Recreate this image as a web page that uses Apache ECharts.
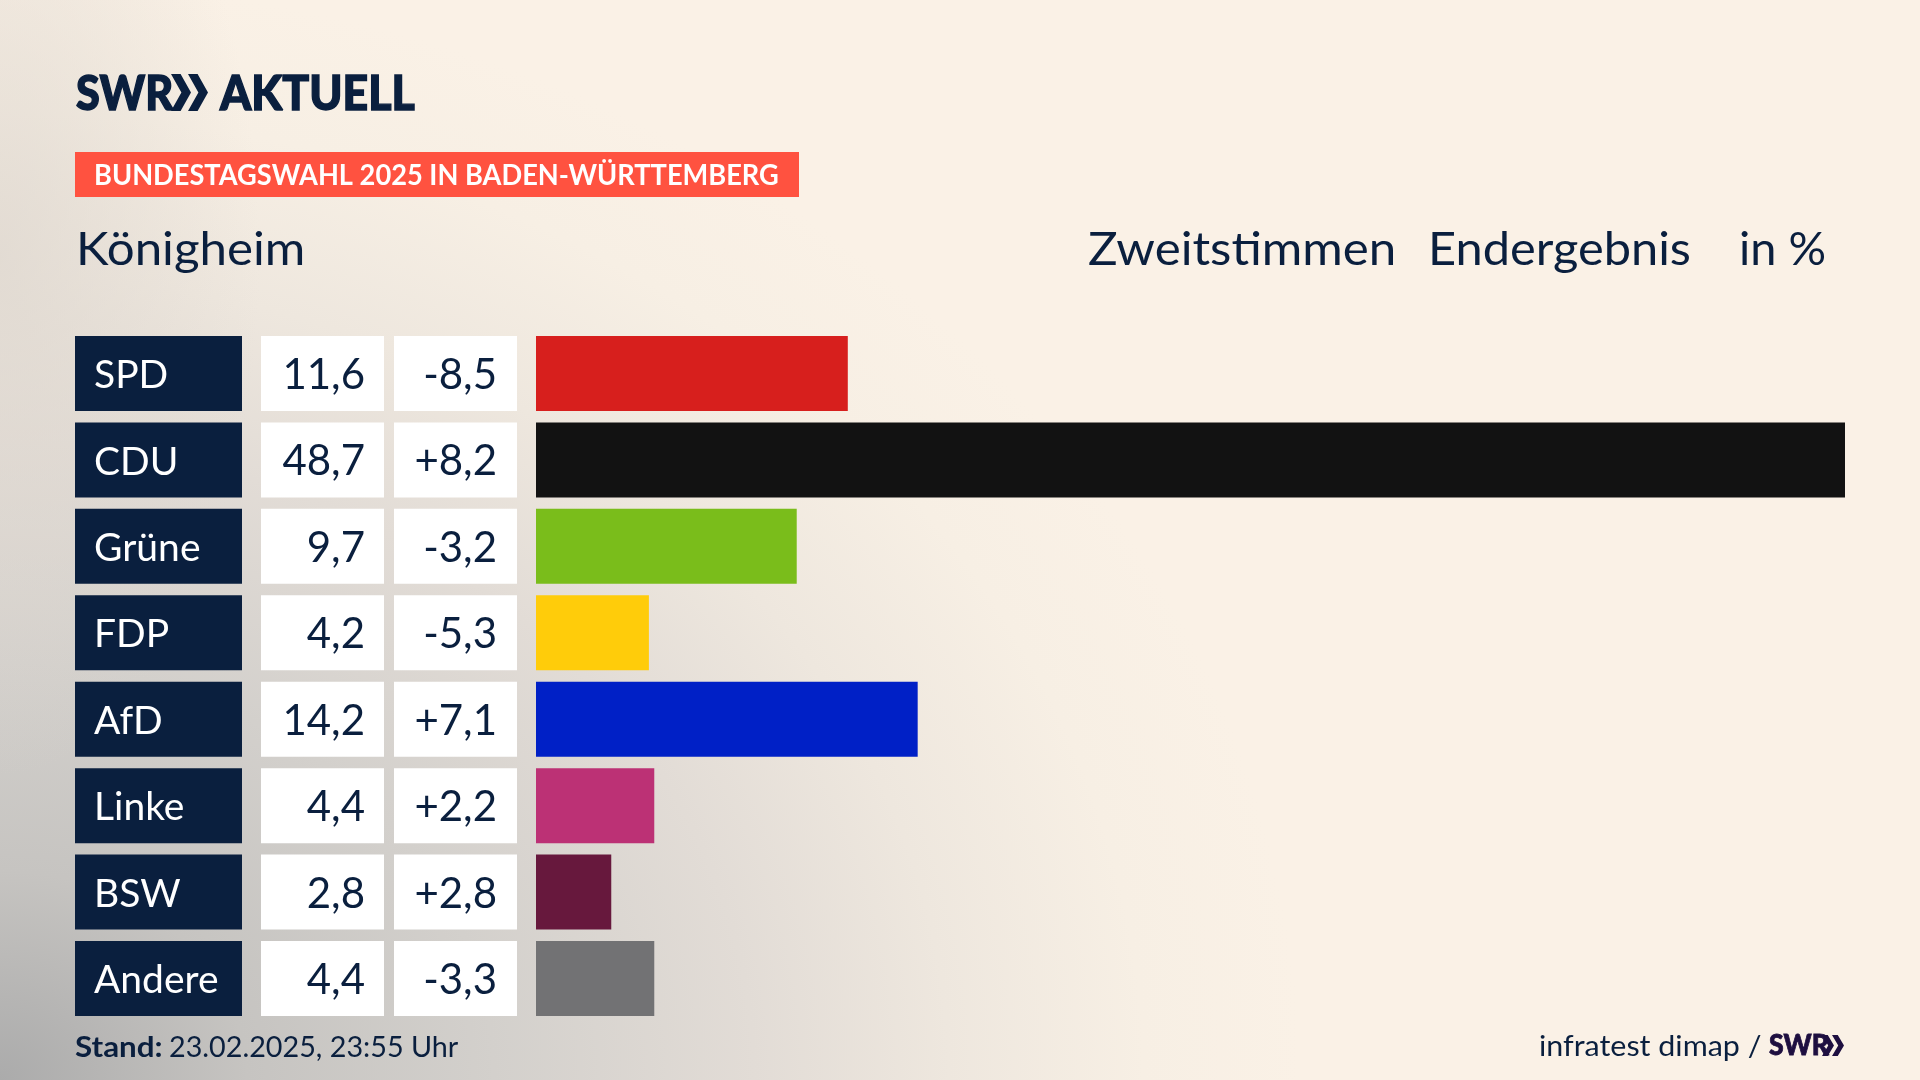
<!DOCTYPE html>
<html lang="de">
<head>
<meta charset="utf-8">
<title>Bundestagswahl 2025 Königheim</title>
<style>
html,body{margin:0;padding:0;width:1920px;height:1080px;overflow:hidden;background:#FAF1E6;}
#bg{position:absolute;left:0;top:0;width:1920px;height:1080px;
background:
 radial-gradient(ellipse 260px 520px at 0px 260px, rgba(222,215,207,.75) 0%, rgba(250,241,230,0) 100%),
 radial-gradient(ellipse 1300px 1100px at 0px 1080px, #ABABAB 0%, #C6C4C1 19%, #D3D0CC 38%, #E2DCD6 58%, #EEE7DE 73%, #F7EFE4 88%, #FAF1E6 100%);}
#chart{position:absolute;left:0;top:0;width:1920px;height:1080px;}
</style>
</head>
<body>
<div id="bg"></div>
<div id="chart"></div>
<script src="https://cdn.jsdelivr.net/npm/echarts@6/dist/echarts.min.js"></script>
<script>
const parties = ['SPD','CDU','Grüne','FDP','AfD','Linke','BSW','Andere'];
const shares  = [11.6,48.7,9.7,4.2,14.2,4.4,2.8,4.4];
const changes = [-8.5,8.2,-3.2,-5.3,7.1,2.2,2.8,-3.3];
const partyColors = ['#D71F1D','#121212','#7ABD1B','#FFCC0A','#0020C6','#BC3175','#67183D','#727274'];
const NAVY = '#0A1F3E';
const FONT = 'Lato';

const fmt = v => v.toFixed(1).replace('.', ',');
const fmtDiff = v => (v > 0 ? '+' : '') + fmt(v);

const gridTop = 330.3, gridH = 691.4, barH = 75;
const columns = [
  {left:75,  width:167},
  {left:261, width:123},
  {left:394, width:123},
  {left:536, width:1309}
];
const grids = columns.map(c => ({left:c.left, width:c.width, top:gridTop, height:gridH}));
const xAxes = columns.map((c,i) => ({gridIndex:i, type:'value', min:0, max:i===3?48.7:1, show:false}));
const yAxes = columns.map((c,i) => ({gridIndex:i, type:'category', inverse:true, data:parties, show:false}));

function column(i, fill, textColor, pos, padding, texts, size){
  return {
    type:'bar', xAxisIndex:i, yAxisIndex:i, barWidth:barH, silent:true, animation:false,
    data:parties.map(()=>1),
    itemStyle:{color:fill},
    label:{show:true, position:pos, distance:0, padding, offset:[0,2], color:textColor, fontFamily:FONT, fontSize:size,
      formatter:p=>texts[p.dataIndex]}
  };
}
const series = [
  column(0, NAVY, '#FFFFFF', 'insideLeft', [0,0,0,19], parties, 39),
  column(1, '#FFFFFF', NAVY, 'insideRight', [0,19,0,0], shares.map(fmt), 42),
  column(2, '#FFFFFF', NAVY, 'insideRight', [0,20,0,0], changes.map(fmtDiff), 42),
  {type:'bar', xAxisIndex:3, yAxisIndex:3, barWidth:barH, silent:true, animation:false,
   data:shares.map((v,i)=>({value:v,itemStyle:{color:partyColors[i]}}))}
];

const txt = (text,x,y,size,opt={}) => ({
  type:'text', x, y, silent:true, scaleX:opt.sx||1,
  style:{text, fill:opt.fill||NAVY, font:`${opt.w||'normal'} ${size}px ${FONT}`,
         textAlign:opt.align||'left', textVerticalAlign:'middle',
         stroke:opt.bold?(opt.fill||NAVY):null, lineWidth:opt.bold||0}
});
const chev = (x,y,h,w,fill) => ({type:'polygon', silent:true, shape:{points:[
  [x,y],[x+w*.48,y],[x+w,y+h/2],[x+w*.48,y+h],[x,y+h],[x+w*.52,y+h/2]]}, style:{fill}});

const graphic = [
  txt('SWR',76,95,48,{w:'900',sx:.9,bold:1.4}),
  chev(171,74,37,20,NAVY), chev(188,74,37,20,NAVY),
  txt('AKTUELL',220,95,48,{w:'900',sx:.93,bold:1.4}),
  {type:'rect',silent:true,shape:{x:75,y:152,width:724,height:45},style:{fill:'#FF5240'}},
  txt('BUNDESTAGSWAHL 2025 IN BADEN-WÜRTTEMBERG',94,176,28,{w:'bold',fill:'#FFFFFF',sx:.972}),
  txt('Königheim',76,250,46,{sx:1.07}),
  txt('Zweitstimmen',1088,250,46,{sx:1.07}),
  txt('Endergebnis',1428,250,46,{sx:1.06}),
  txt('in %',1739,250,46,{sx:1.02}),
  txt('Stand:',75,1048,28,{w:'bold',sx:1.12}),
  txt('23.02.2025, 23:55 Uhr',169,1048,28,{sx:1.026}),
  txt('infratest dimap /',1539,1047,29,{sx:1.05}),
  txt('SWR',1769,1046,28,{w:'900',fill:'#1E0F40',sx:.95,bold:.8}),
  chev(1822,1035,21,12,'#1E0F40'), chev(1832,1035,21,12,'#1E0F40')
];

const chart = echarts.init(document.getElementById('chart'), null, {renderer:'canvas'});
chart.setOption({animation:false, backgroundColor:'transparent', grid:grids, xAxis:xAxes, yAxis:yAxes, series, graphic});
</script>
</body>
</html>
